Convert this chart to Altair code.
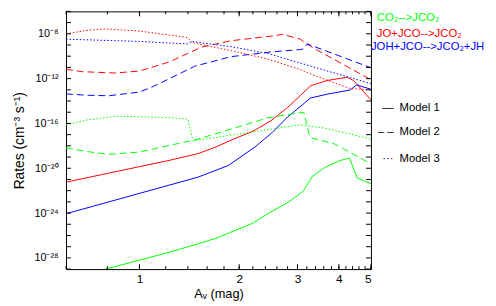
import altair as alt
import pandas as pd

# ---------------- data ----------------
reactions = ["CO₂-->JCO₂", "JO+JCO-->JCO₂", "JOH+JCO-->JCO₂+JH"]
reaction_colors = ["#00ff00", "#ff0000", "#0000ff"]
models = ["Model 1", "Model 2", "Model 3"]
model_marks = ["—", "– –", "···"]

x_major = [1, 2, 3, 4, 5]
x_minor = [0.6, 0.8, 1.0, 1.2, 1.4, 1.6, 1.8, 2.0, 2.2, 2.4, 2.6, 2.8,
           3.0, 3.2, 3.4, 3.6, 3.8, 4.0, 4.2, 4.4, 4.6, 4.8, 5.0]
y_exponents = list(range(-29, -5))
y_label_exponents = [-28, -24, -20, -16, -12, -8]

# Model 1 (solid)  -- rates given as log10(rate)
co2_m1_av = [0.60, 0.767, 1.0, 1.228, 1.5, 1.70, 1.889, 2.2, 2.44, 2.80, 3.06, 3.13,
             3.32, 3.62, 4.0, 4.2, 4.31, 4.54, 5.0]
co2_m1_lg = [-29.95, -29.1, -28.2, -27.5, -26.75, -26.25, -25.7, -24.9, -24.06, -23.07,
             -22.25, -22.0, -20.75, -19.95, -19.35, -19.17, -19.1, -20.86, -21.37]
jo_m1_av = [0.6, 1.228, 1.5, 1.7, 1.889, 2.217, 2.51, 2.80, 3.285, 3.685, 4.23, 4.43, 5.0]
jo_m1_lg = [-21.24, -19.3, -18.7, -18.1, -17.5, -16.65, -15.7, -14.58, -12.65, -12.17,
            -11.88, -12.17, -13.9]
joh_m1_av = [0.6, 1.228, 1.5, 1.855, 2.232, 2.51, 2.80, 3.285, 3.685, 4.32, 4.53, 5.0]
joh_m1_lg = [-24.06, -21.51, -20.8, -19.75, -18.1, -16.84, -15.43, -13.73, -13.39,
             -13.02, -12.56, -12.95]

# Model 2 (dashed)
co2_m2_av = [0.6, 0.69, 0.807, 1.0, 1.228, 1.5, 2.0, 2.44, 3.06, 3.14, 3.27, 3.89, 4.13, 5.0]
co2_m2_lg = [-18.17, -18.5, -18.76, -18.55, -17.97, -17.4, -16.28, -15.5, -15.03, -15.05,
             -17.25, -17.84, -18.26, -19.62]
jo_m2_av = [0.6, 0.672, 0.842, 1.0, 1.1, 1.228, 1.40, 1.538, 1.889, 2.51, 2.705, 3.06,
            3.20, 3.39, 5.0]
jo_m2_lg = [-11.17, -11.38, -11.5, -11.32, -10.95, -10.52, -9.75, -9.19, -8.62, -8.2,
            -8.05, -8.48, -8.9, -9.35, -12.1]
joh_m2_av = [0.6, 0.69, 0.807, 1.0, 1.1, 1.228, 1.469, 1.889, 2.51, 3.06, 3.12, 3.21, 5.0]
joh_m2_lg = [-13.36, -13.48, -13.53, -13.2, -12.7, -12.02, -10.89, -10.04, -9.61, -9.41,
             -9.35, -8.9, -11.03]

# Model 3 (dotted)
co2_m3_av = [0.6, 0.69, 0.842, 1.0, 1.228, 1.40, 1.45, 1.889, 2.51, 3.06, 3.6, 4.23, 5.0]
co2_m3_lg = [-16.13, -15.7, -15.37, -15.4, -15.48, -15.6, -17.55, -17.05, -16.5, -16.13,
             -16.4, -16.87, -17.4]
jo_m3_av = [0.6, 0.69, 0.786, 1.0, 1.228, 1.40, 1.438, 1.889, 2.44, 3.06, 3.39, 4.32, 5.0]
jo_m3_lg = [-8.0, -7.7, -7.57, -7.75, -8.11, -8.34, -8.77, -9.5, -10.25, -11.2, -11.74,
            -12.88, -13.0]
joh_m3_av = [0.6, 1.0, 1.228, 1.40, 1.438, 1.889, 2.44, 3.39, 5.0]
joh_m3_lg = [-8.48, -8.68, -8.82, -8.9, -8.68, -9.15, -9.75, -11.0, -12.45]

series = [
    (reactions[0], models[0], co2_m1_av, co2_m1_lg),
    (reactions[1], models[0], jo_m1_av, jo_m1_lg),
    (reactions[2], models[0], joh_m1_av, joh_m1_lg),
    (reactions[0], models[1], co2_m2_av, co2_m2_lg),
    (reactions[1], models[1], jo_m2_av, jo_m2_lg),
    (reactions[2], models[1], joh_m2_av, joh_m2_lg),
    (reactions[0], models[2], co2_m3_av, co2_m3_lg),
    (reactions[1], models[2], jo_m3_av, jo_m3_lg),
    (reactions[2], models[2], joh_m3_av, joh_m3_lg),
]
rows = []
for r, m, avs, lgs in series:
    for a, l in zip(avs, lgs):
        rows.append({"reaction": r, "model": m, "av": a, "rate": 10.0 ** l})
df = pd.DataFrame(rows)

# ---------------- chart ----------------
FONT = "Liberation Sans"
W, H = 310, 262

sup = str.maketrans("-0123456789", "⁻⁰¹²³⁴⁵⁶⁷⁸⁹")
y_values = [10.0 ** e for e in y_exponents]
label_arr = [("10" + str(e).translate(sup)) if e in y_label_exponents else "" for e in y_exponents]
y_label_expr = "[" + ",".join("'" + s + "'" for s in label_arr) + "][round(log(datum.value)/LN10)+29]"

xs = alt.Scale(type="log", domain=[0.6, 5.0], nice=False)
ys = alt.Scale(type="log", domain=[1e-29, 1e-6], nice=False)
color = alt.Color("reaction:N", scale=alt.Scale(domain=reactions, range=reaction_colors), legend=None)

common = dict(domain=False, grid=False, ticks=False,
              labelFont=FONT, labelColor="black", titleFont=FONT, titleColor="black",
              titleFontWeight="normal")

ax_bottom = alt.Axis(orient="bottom", values=x_major, format="~g", labelFontSize=12,
                     labelPadding=5, title="Aᵥ (mag)", titleFontSize=13, titlePadding=3,
                     **common)
ax_left = alt.Axis(orient="left", values=y_values, labelExpr=y_label_expr, labelFontSize=11,
                   labelPadding=8, title="Rates (cm⁻³ s⁻¹)", titleFontSize=14,
                   titlePadding=8, **common)

base = alt.Chart(df)


def lines(model, dash=None):
    mk = dict(clip=True, strokeWidth=1)
    if dash is not None:
        mk["strokeDash"] = dash
    return base.transform_filter(alt.datum.model == model).mark_line(**mk).encode(
        x=alt.X("av:Q", scale=xs, axis=ax_bottom),
        y=alt.Y("rate:Q", scale=ys, axis=ax_left),
        color=color,
        detail="reaction:N",
    )


l1 = lines(models[0])
l2 = lines(models[1], dash=[7, 4])
l3 = lines(models[2], dash=[1.5, 2])

# inward tick marks on all four sides, placed through the shared scales
xmaj_df = pd.DataFrame({"v": x_major})
xmin_df = pd.DataFrame({"v": x_minor})
y_df = pd.DataFrame({"v": y_values})
tick_style = dict(color="black", strokeWidth=1)


def xticks(d, y0, y1):
    return alt.Chart(d).mark_rule(**tick_style).encode(
        x=alt.X("v:Q", scale=xs, axis=ax_bottom), y=alt.value(y0), y2=alt.value(y1))


def yticks(x0, x1):
    return alt.Chart(y_df).mark_rule(**tick_style).encode(
        y=alt.Y("v:Q", scale=ys, axis=ax_left), x=alt.value(x0), x2=alt.value(x1))


ticks = [
    xticks(xmaj_df, H, H - 5), xticks(xmin_df, H, H - 3),
    xticks(xmaj_df, 0, 5), xticks(xmin_df, 0, 3),
    yticks(0, 5), yticks(W, W - 5),
]

texts = []
react_y = [7, 23, 36]
react_x = [316, 316, 310]
for lab, col, yy, xx in zip(reactions, reaction_colors, react_y, react_x):
    texts.append(alt.Chart(pd.DataFrame({"t": [lab]})).mark_text(
        align="left", baseline="middle", font=FONT, fontSize=11.5, color=col
    ).encode(x=alt.value(xx), y=alt.value(yy), text="t:N"))

model_y = [98, 123, 150]
for lab, sym, yy in zip(models, model_marks, model_y):
    texts.append(alt.Chart(pd.DataFrame({"t": [sym]})).mark_text(
        align="right", baseline="middle", font=FONT, fontSize=11.5, color="black"
    ).encode(x=alt.value(333), y=alt.value(yy), text="t:N"))
    texts.append(alt.Chart(pd.DataFrame({"t": [lab]})).mark_text(
        align="left", baseline="middle", font=FONT, fontSize=11.5, color="black"
    ).encode(x=alt.value(339), y=alt.value(yy), text="t:N"))

chart = alt.layer(l1, l2, l3, *ticks, *texts).properties(
    width=W, height=H,
    autosize=alt.AutoSizeParams(type="none"),
    padding={"left": 59, "top": 1, "right": 119, "bottom": 31},
    background="white",
).configure_view(stroke="black", strokeWidth=1)

chart.save("out.html", embed_options={"renderer": "svg", "actions": False})
